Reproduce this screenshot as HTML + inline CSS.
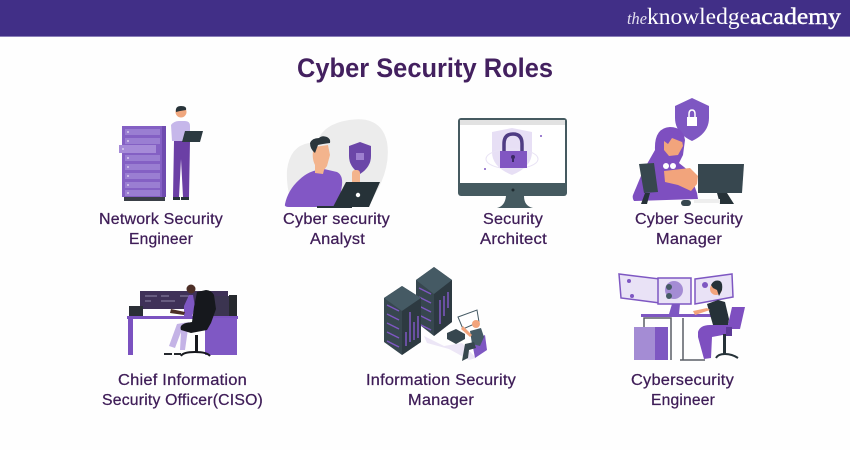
<!DOCTYPE html>
<html><head><meta charset="utf-8"><style>
html,body{margin:0;padding:0;background:#fff}
svg{display:block}
.l{font-family:"Liberation Sans",sans-serif;font-size:15.5px;fill:#3e1c57;stroke:#3e1c57;stroke-width:.25px;letter-spacing:.2px}
</style></head><body>
<svg width="850" height="450" viewBox="0 0 850 450" xmlns="http://www.w3.org/2000/svg">
<rect width="850" height="450" fill="#fefefe"/>
<rect width="850" height="36" fill="#412f87"/>
<rect y="36" width="850" height="1" fill="#8a7fb8"/>
<text x="627" y="24" font-family="Liberation Serif,serif" font-style="italic" font-size="17" fill="#e4e0f0" textLength="20" lengthAdjust="spacingAndGlyphs">the</text>
<text x="647" y="24" font-family="Liberation Serif,serif" font-size="23" fill="#fff" textLength="103" lengthAdjust="spacingAndGlyphs">knowledge</text>
<text x="750" y="24" font-family="Liberation Serif,serif" font-size="23" fill="#fff" stroke="#fff" stroke-width=".4" textLength="91" lengthAdjust="spacingAndGlyphs">academy</text>
<text x="297" y="77" font-family="Liberation Sans,sans-serif" font-weight="bold" font-size="27" fill="#43205f" textLength="256" lengthAdjust="spacingAndGlyphs">Cyber Security Roles</text>

<!-- Network engineer -->
<rect x="122" y="126" width="44" height="71" fill="#8460c4"/>
<rect x="162" y="126" width="4" height="71" fill="#6f4bb0"/>
<g fill="#9a7ed2"><rect x="125" y="129" width="35" height="6"/><rect x="125" y="138" width="35" height="6"/><rect x="119" y="145" width="37" height="8" fill="#a68bd8"/><rect x="125" y="155" width="35" height="6"/><rect x="125" y="164" width="35" height="6"/><rect x="125" y="173" width="35" height="6"/><rect x="125" y="182" width="35" height="6"/><rect x="125" y="190" width="35" height="6"/></g>
<g fill="#d6c9ee"><circle cx="128" cy="132" r="1"/><circle cx="128" cy="141" r="1"/><circle cx="123" cy="149" r="1"/><circle cx="128" cy="158" r="1"/><circle cx="128" cy="167" r="1"/><circle cx="128" cy="176" r="1"/><circle cx="128" cy="185" r="1"/><circle cx="128" cy="193" r="1"/></g>
<rect x="124" y="197" width="41" height="4" fill="#3a3f47"/>
<path d="M171 125q3-4 8-4h6q5 0 5 5v15h-18z" fill="#c6b7ea"/>
<circle cx="181" cy="112" r="5.500" fill="#f0a77e"/>
<path d="M176 112q-1-6 5-6t5 4l-6 1z" fill="#28343a"/>
<path d="M174 141h16l-1 56h-6l-2-38-2 38h-6z" fill="#6b3fa5"/>
<rect x="173" y="197" width="7" height="3" fill="#263238"/><rect x="181" y="197" width="8" height="3" fill="#263238"/>
<path d="M185 131h18l-3 11h-18z" fill="#2c3a40"/>

<!-- Analyst -->
<path d="M287 170q3-24 22-27q8 2 9-3q6-16 31-20q32-5 38 22q5 30-19 63h-75q-7-15-6-35z" fill="#ececec"/>
<path d="M285 204q3-14 14-24q10-10 25-11l13 3q6 3 5 13l-3 22h-50q-5 0-4-3z" fill="#8257c5"/>
<path d="M314 147l14-2 2 10-3 11-3 4-1 4-8-1 0-8q-4-8-1-18z" fill="#f3b48d"/>
<path d="M310 143q2-5 9-5q3-3 8-1q4 2 3 6q-8 1-12 2l-3 8q-5-4-5-10z" fill="#2b363c"/>
<path d="M360 142l11 4v10q0 11-11 18q-11-7-11-18v-10z" fill="#6b46a8"/>
<rect x="356" y="153" width="8" height="7" fill="#9d7fd0"/>
<rect x="352" y="170" width="8" height="17" rx="3" fill="#f3b48d"/>
<path d="M346 182h34l-11 25h-36z" fill="#263238"/>
<circle cx="358" cy="195" r="2.200" fill="#fff"/>
<rect x="317" y="206" width="35" height="2" fill="#263238"/>

<!-- Architect -->
<path d="M497 208q8-2 9-12h18q0 10 9 12z" fill="#455a60"/>
<rect x="458" y="118" width="109" height="78" rx="3" fill="#455a60"/>
<rect x="460" y="120" width="105" height="63" fill="#fff"/>
<rect x="460" y="120" width="105" height="5" fill="#e2e2e2"/>
<path d="M512 128l20 4v20q0 15-20 23q-20-8-20-23v-20z" fill="#e7dff5"/>
<ellipse cx="512" cy="159" rx="26" ry="10" fill="none" stroke="#e9e3f5" stroke-width="1"/>
<path d="M504 151v-7q0-10 9-10t9 10v7" fill="none" stroke="#4f3c83" stroke-width="3.500"/>
<rect x="500" y="151" width="27" height="17" fill="#8156c2"/>
<circle cx="513" cy="157" r="2" fill="#3b2a65"/><rect x="512" y="157" width="2" height="5" fill="#3b2a65"/>
<circle cx="541" cy="136" r="1" fill="#7e57c2"/><circle cx="485" cy="169" r="1" fill="#7e57c2"/>
<circle cx="513" cy="190" r="1.500" fill="#1f2b30"/>

<!-- Manager -->
<path d="M692 98l17 8v12q0 15-17 23q-17-8-17-23v-12z" fill="#7e57c2"/>
<rect x="687" y="117" width="10" height="9" fill="#fff"/>
<path d="M689 117v-3q0-4 3-4t3 4v3" fill="none" stroke="#fff" stroke-width="1.500"/>
<path d="M655 150q-1-22 15-23q13 0 15 13l-2 15-4 8 10 8 8 22 1 6-64 2q-2-3-1-6l10-24z" fill="#7e4fc0"/>
<path d="M664 134l17 2 2 10-5 9-9 1-5-6z" fill="#f2a47c"/>
<path d="M664 133q8-5 19 3l-1 6-10-4-4 6-4-3z" fill="#7e4fc0"/>
<circle cx="666" cy="166" r="3" fill="#fff"/><circle cx="673" cy="166" r="3" fill="#fff"/>
<path d="M664 171l26-3 8 8-1 8-6 7-13-6-13-3z" fill="#f2a47c"/>
<path d="M639 164l15-1 4 29-14 1z" fill="#37474f"/>
<path d="M698 164h46l-2 29h-44z" fill="#37474f"/>
<path d="M645 193l5 0-3 11h-6z" fill="#263238"/><path d="M717 193l10 0 7 11h-14z" fill="#263238"/>
<rect x="681" y="200" width="10" height="6" rx="3" fill="#37474f"/>
<rect x="694" y="199" width="26" height="4" fill="#eee"/>

<!-- CISO -->
<rect x="140" y="291" width="88" height="18" fill="#3f3158"/>
<g stroke="#8f86a8" stroke-width="1"><path d="M145 296h12M161 296h8M145 301h6M161 301h14M180 296h10"/></g>
<rect x="212" y="296" width="21" height="21" fill="#3b3450"/>
<rect x="229" y="295" width="8" height="21" fill="#26292e"/>
<rect x="129" y="306" width="14" height="10" fill="#2b2f36"/>
<rect x="127" y="316" width="111" height="3" fill="#7b52c0"/>
<rect x="128" y="319" width="5" height="36" fill="#7b52c0"/>
<rect x="205" y="318" width="32" height="37" fill="#7f58c4"/>
<path d="M169 346l8-22 12-2-4 28-5 0 1-18-6 16z" fill="#c4b3e6"/>
<path d="M184 306l5-11h4l2 12-3 10-8 1z" fill="#7e57c2"/>
<path d="M171 309l14 3-1 3-14-2z" fill="#4d2f27"/>
<circle cx="191" cy="289" r="4.500" fill="#4d2f27"/>
<path d="M197 292l9-2q5 0 8 5l2 14-5 14-4 7-16 3-10-3q-2-5 5-7l6-1 2-15z" fill="#16181d"/>
<rect x="195" y="335" width="3" height="18" fill="#16181d"/>
<path d="M181 356q2-4 14-4t15 4" fill="none" stroke="#16181d" stroke-width="2"/>
<rect x="164" y="353" width="8" height="2" fill="#26292e"/><rect x="174" y="353" width="7" height="2" fill="#26292e"/>

<!-- Info Security Manager -->
<path d="M416 280l18-13 18 13v42l-18 14-18-14z" fill="#37474f"/>
<path d="M416 280l18-13 18 13-18 14z" fill="#455a64"/>
<path d="M434 294l18-14v42l-18 14z" fill="#2d3a41"/>
<g stroke="#7e57c2" stroke-width="1.500" fill="none"><path d="M419 288l12 6M419 297l12 6M419 306l12 6M419 315l12 6M419 324l12 6M440 300v24M444 296v20M448 292v16"/></g>
<path d="M384 298l18-12 19 12v44l-19 13-18-13z" fill="#37474f"/>
<path d="M384 298l18-12 19 12-19 13z" fill="#455a64"/>
<path d="M402 311l19-13v44l-19 13z" fill="#2d3a41"/>
<g stroke="#7e57c2" stroke-width="1.500" fill="none"><path d="M387 305l12 6M387 314l12 6M387 323l12 6M387 332l12 6M387 341l12 6M406 332v14M410 312v30M414 322v18M418 316v22"/></g>
<path d="M424 336l20 10 18-3 14 15-7 2-20-11-22-6z" fill="#ece6f6"/>
<path d="M458 317l19-7 2 12-16 7z" fill="#fff" stroke="#455a64"/>
<path d="M447 333l9-4 9 5v5l-9 5-9-5z" fill="#37474f"/>
<path d="M472 342l13-7 2 15-12 8z" fill="#7e57c2"/>
<circle cx="476" cy="324" r="4" fill="#f2a47c"/>
<path d="M470 331l11-3 3 9-4 9-8-2z" fill="#455a64"/>
<path d="M465 344l9-2 2 6-7 2-1 8-6 3z" fill="#37474f"/>
<path d="M463 326l9 9-2 2-9-8z" fill="#f2a47c"/>

<!-- Cybersecurity Engineer -->
<path d="M619 274l41 5v24l-39-5z" fill="#e9e2f6" stroke="#7e57c2" stroke-width="1.500"/>
<path d="M658 278h33v26h-33z" fill="#e9e2f6" stroke="#7e57c2" stroke-width="1.500"/>
<path d="M695 279l37-5 1 23-38 7z" fill="#e9e2f6" stroke="#7e57c2" stroke-width="1.500"/>
<circle cx="674" cy="290" r="9" fill="#a48cd4"/><circle cx="669" cy="287" r="3" fill="#455a64"/><circle cx="669" cy="296" r="3" fill="#455a64"/>
<circle cx="629" cy="281" r="2" fill="#7e57c2"/><circle cx="632" cy="296" r="2" fill="#7e57c2"/><circle cx="705" cy="285" r="3" fill="#7e57c2"/>
<path d="M672 304h8l-1 10h-10z" fill="#7e57c2"/>
<rect x="641" y="314" width="87" height="3" fill="#7e57c2"/>
<path d="M644 327v-9h27v42M683 360h-3M683 318v42h22" fill="none" stroke="#5a5f66" stroke-width="1.500"/>
<rect x="634" y="327" width="22" height="33" fill="#a48cd4"/>
<rect x="655" y="327" width="13" height="33" fill="#7e57c2"/>
<path d="M707 304l11-4 7 2 4 17-1 6h-15z" fill="#263238"/>
<circle cx="716" cy="289" r="6" fill="#f2a47c"/>
<path d="M711 285q3-6 9-4q3 2 2 9l-3 6-2-6-4-2z" fill="#263238"/>
<path d="M693 311l14-3 3 2-15 5z" fill="#f2a47c"/>
<path d="M698 332q2-7 12-7h18v9l-16 3-1 21-7 1-6-22z" fill="#7e4fc0"/>
<path d="M732 307h13l-5 22h-13z" fill="#7e4fc0"/>
<rect x="726" y="327" width="6" height="9" fill="#5c3a96"/>
<rect x="723" y="334" width="3" height="20" fill="#263238"/>
<path d="M716 358q2-4 9-4t13 4" fill="none" stroke="#263238" stroke-width="2"/>

<!-- Labels -->
<text class="l" x="99" y="224" textLength="124" lengthAdjust="spacingAndGlyphs">Network Security</text>
<text class="l" x="129" y="244" textLength="64" lengthAdjust="spacingAndGlyphs">Engineer</text>
<text class="l" x="283" y="224" textLength="107" lengthAdjust="spacingAndGlyphs">Cyber security</text>
<text class="l" x="310" y="244" textLength="55" lengthAdjust="spacingAndGlyphs">Analyst</text>
<text class="l" x="483" y="224" textLength="60" lengthAdjust="spacingAndGlyphs">Security</text>
<text class="l" x="480" y="244" textLength="67" lengthAdjust="spacingAndGlyphs">Architect</text>
<text class="l" x="635" y="224" textLength="108" lengthAdjust="spacingAndGlyphs">Cyber Security</text>
<text class="l" x="656" y="244" textLength="66" lengthAdjust="spacingAndGlyphs">Manager</text>
<text class="l" x="118" y="385" textLength="129" lengthAdjust="spacingAndGlyphs">Chief Information</text>
<text class="l" x="102" y="405" textLength="161" lengthAdjust="spacingAndGlyphs">Security Officer(CISO)</text>
<text class="l" x="366" y="385" textLength="150" lengthAdjust="spacingAndGlyphs">Information Security</text>
<text class="l" x="408" y="405" textLength="66" lengthAdjust="spacingAndGlyphs">Manager</text>
<text class="l" x="631" y="385" textLength="103" lengthAdjust="spacingAndGlyphs">Cybersecurity</text>
<text class="l" x="651" y="405" textLength="64" lengthAdjust="spacingAndGlyphs">Engineer</text>
</svg>
</body></html>
